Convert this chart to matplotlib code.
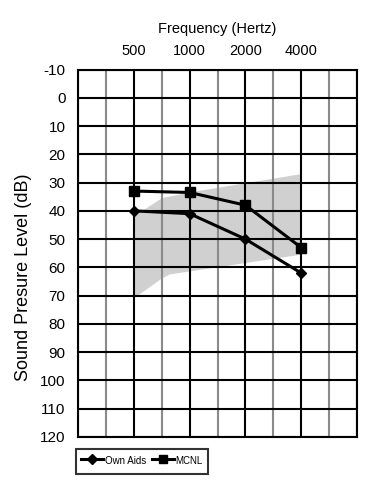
import matplotlib
matplotlib.use('Agg')
import matplotlib.pyplot as plt

plt.rcParams['font.family'] = ['Liberation Sans', 'DejaVu Sans']

# data
freqs = [500, 1000, 2000, 4000]
freq_labels = ['500', '1000', '2000', '4000']
own_aids = [40, 41, 50, 62]
mcnl = [33, 33.5, 38, 53]

# shaded range (upper / lower edges)
range_up_f = [500, 710, 1000, 4000]
range_up_db = [42, 35.5, 33.5, 27]
range_lo_f = [500, 707, 780, 4000]
range_lo_db = [71, 64, 62.5, 55.5]

db_ticks = list(range(-10, 121, 10))
major_lines = [250, 500, 1000, 2000, 4000, 8000]
minor_lines = [354, 707, 1414, 2828, 5657]

fig = plt.figure(figsize=(3.83, 5), dpi=100)
ax = fig.add_axes([0.2037, 0.126, 0.7285, 0.735])

ax.set_xscale('log', base=2)
ax.set_xlim(250, 8000)
ax.set_ylim(120, -10)

# shaded area
poly_f = range_up_f + range_lo_f[::-1]
poly_db = range_up_db + range_lo_db[::-1]
ax.fill(poly_f, poly_db, color='#d0d0d0', lw=0, zorder=1)

# grid
for f in minor_lines:
    ax.axvline(f, color='#8a8a8a', lw=1.5, zorder=2)
for f in major_lines:
    ax.axvline(f, color='black', lw=1.5, zorder=3)
for d in db_ticks:
    ax.axhline(d, color='black', lw=1.5, zorder=3)

ax.plot(freqs, own_aids, color='black', lw=2.2, marker='D', ms=5.5,
        zorder=5, label='Own Aids')
ax.plot(freqs, mcnl, color='black', lw=2.2, marker='s', ms=7.5,
        zorder=5, label='MCNL')

for s in ax.spines.values():
    s.set_linewidth(1.5)

ax.xaxis.tick_top()
ax.set_xticks(freqs)
ax.set_xticklabels(freq_labels)
ax.xaxis.set_minor_locator(matplotlib.ticker.NullLocator())
ax.set_yticks(db_ticks)
ax.set_yticklabels([str(d) for d in db_ticks])
ax.tick_params(axis='both', length=0)
ax.tick_params(axis='x', pad=8, labelsize=10.5)
ax.tick_params(axis='y', pad=9, labelsize=11)

ax.xaxis.set_label_position('top')
ax.set_xlabel('Frequency (Hertz)', fontsize=10.5, labelpad=8)
ax.set_ylabel('Sound Presure Level (dB)', fontsize=13)
ax.yaxis.set_label_coords(-0.165, 0.435)

leg = fig.legend(loc='upper left', bbox_to_anchor=(0.198, 0.102),
                 ncol=2, fontsize=7, frameon=True, fancybox=False,
                 borderaxespad=0, handlelength=2.3, handletextpad=0.15,
                 columnspacing=0.6, borderpad=0.5, handleheight=2.0,
                 markerscale=0.85)
leg.get_frame().set_edgecolor('black')
leg.get_frame().set_linewidth(1.5)

plt.savefig('out.png', dpi=100)
